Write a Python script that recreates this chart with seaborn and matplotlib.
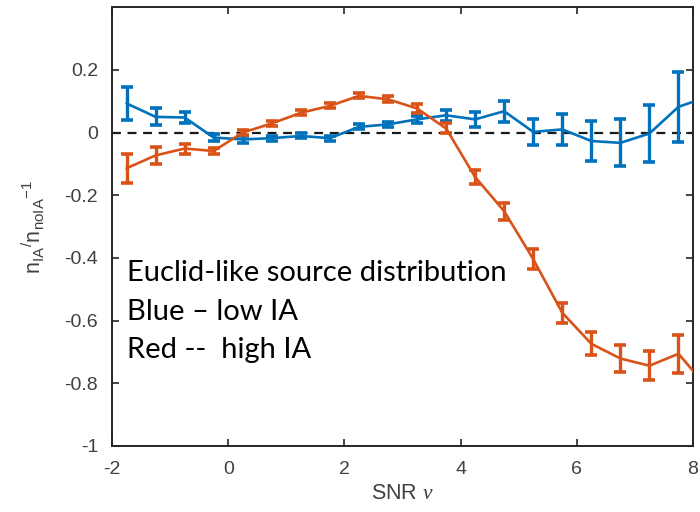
import numpy as np
import pandas as pd
import matplotlib
matplotlib.use("Agg")
import matplotlib.pyplot as plt
import seaborn as sns

# SNR bin centres (last bin lies just beyond the plotted range)
snr = [-1.75, -1.25, -0.75, -0.25, 0.25, 0.75, 1.25, 1.75, 2.25, 2.75,
       3.25, 3.75, 4.25, 4.75, 5.25, 5.75, 6.25, 6.75, 7.25, 7.75, 8.25]

# low intrinsic alignment
low_ia = [0.093, 0.050, 0.048, -0.016, -0.022, -0.018, -0.011, -0.018, 0.018, 0.026,
          0.042, 0.055, 0.042, 0.068, 0.002, 0.010, -0.027, -0.033, -0.003, 0.082, 0.114]
low_ia_err = [0.052, 0.027, 0.016, 0.010, 0.010, 0.008, 0.008, 0.008, 0.008, 0.009,
              0.012, 0.018, 0.025, 0.033, 0.041, 0.050, 0.063, 0.075, 0.090, 0.112, 0.13]

# high intrinsic alignment
high_ia = [-0.114, -0.073, -0.051, -0.059, 0.000, 0.029, 0.063, 0.085, 0.117, 0.106,
           0.077, 0.013, -0.142, -0.251, -0.404, -0.575, -0.674, -0.721, -0.744, -0.706, -0.814]
high_ia_err = [0.047, 0.027, 0.016, 0.010, 0.009, 0.008, 0.008, 0.008, 0.008, 0.009,
               0.015, 0.016, 0.021, 0.027, 0.032, 0.032, 0.037, 0.042, 0.047, 0.061, 0.07]

x_ticks = [-2, 0, 2, 4, 6, 8]
y_ticks = [-1, -0.8, -0.6, -0.4, -0.2, 0, 0.2]
y_tick_labels = ["-1", "-0.8", "-0.6", "-0.4", "-0.2", "0", "0.2"]

note_lines = ["Euclid-like source distribution", "Blue \u2013 low IA", "Red --  high IA"]

blue = "#0072BD"
orange = "#D95319"
axis_col = "#262626"
label_col = "#404040"

sns.set_theme(style="ticks")
plt.rcParams["font.family"] = ["Liberation Sans", "DejaVu Sans"]
plt.rcParams["mathtext.fontset"] = "custom"
plt.rcParams["mathtext.rm"] = "Liberation Sans"
plt.rcParams["mathtext.it"] = "Liberation Serif:italic"

df = pd.DataFrame({
    "snr": snr * 2,
    "value": low_ia + high_ia,
    "err": low_ia_err + high_ia_err,
    "series": ["low"] * len(snr) + ["high"] * len(snr),
})

fig = plt.figure(figsize=(7.0, 5.12), dpi=100)
ax = fig.add_axes([0.16, 0.129, 0.83, 0.857])

palette = {"low": blue, "high": orange}
sns.lineplot(data=df, x="snr", y="value", hue="series", palette=palette,
             linewidth=1.9, legend=False, ax=ax, zorder=3)

for key in ["low", "high"]:
    sub = df[df["series"] == key]
    ax.errorbar(sub["snr"], sub["value"], yerr=sub["err"], fmt="none",
                ecolor=palette[key], elinewidth=2.4, capsize=4.3, capthick=2.6,
                zorder=4)

ax.axhline(0, color="#1a1a1a", linestyle=(0, (4, 3)), linewidth=1.6, zorder=2)

ax.set_xlim(-2, 8)
ax.set_ylim(-1, 0.4)
ax.set_xticks(x_ticks)
ax.set_xticklabels([str(t) for t in x_ticks])
ax.set_yticks(y_ticks)
ax.set_yticklabels(y_tick_labels)

for side in ["left", "right", "top", "bottom"]:
    ax.spines[side].set_visible(True)
    ax.spines[side].set_color(axis_col)
    ax.spines[side].set_linewidth(1.4)

ax.tick_params(direction="in", length=5, width=1.2, colors=axis_col,
               labelsize=14, top=True, right=True)
ax.tick_params(axis="y", pad=10)
ax.tick_params(axis="x", pad=11)
for lbl in ax.get_xticklabels() + ax.get_yticklabels():
    lbl.set_color(label_col)

ax.set_xlabel(r"SNR $\nu$", fontsize=15.5, color=label_col)
ax.xaxis.set_label_coords(0.5, -0.085)
ax.set_ylabel(r"$\mathregular{n_{IA}{}^{/}n_{noIA}{}^{-1}}$", fontsize=15.5, color=label_col)
ax.yaxis.set_label_coords(-0.112, 0.5)

# annotation block, one baseline per line
for line, yb in zip(note_lines, [0.376, 0.287, 0.200]):
    ax.text(0.026, yb, line, transform=ax.transAxes, ha="left", va="baseline",
            fontsize=21, family=["Lato", "DejaVu Sans"], color="black")

fig.savefig("out.png", dpi=100, facecolor="white")
